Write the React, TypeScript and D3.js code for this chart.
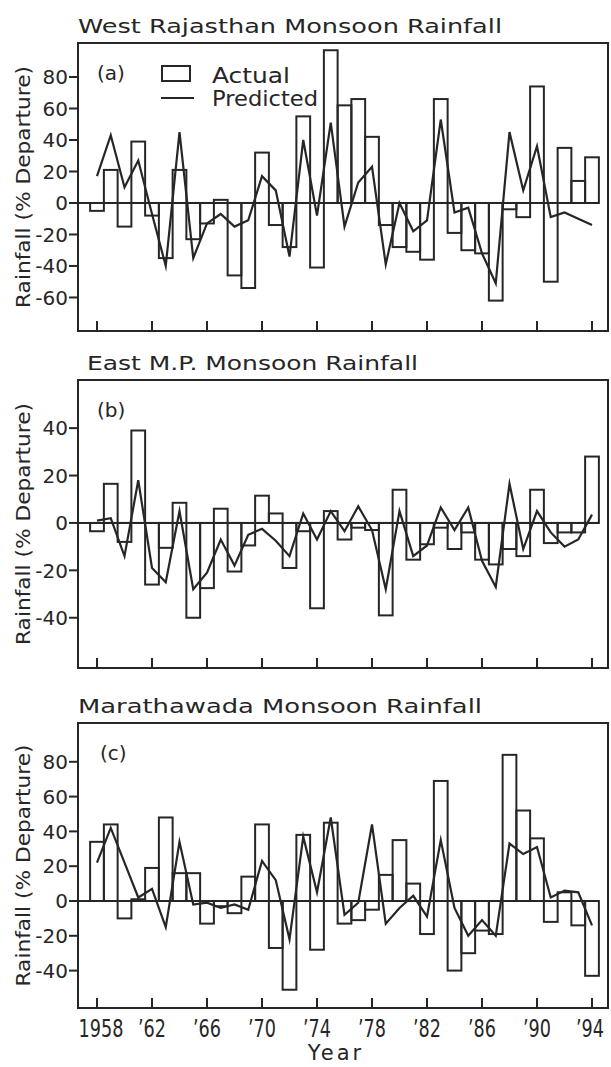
import React from 'react';
import * as d3 from 'd3';

// years on the x axis, one bar per year
const years = [1958, 1959, 1960, 1961, 1962, 1963, 1964, 1965, 1966, 1967, 1968, 1969, 1970,
  1971, 1972, 1973, 1974, 1975, 1976, 1977, 1978, 1979, 1980, 1981, 1982, 1983, 1984, 1985,
  1986, 1987, 1988, 1989, 1990, 1991, 1992, 1993, 1994];

const tickYears = [1958, 1962, 1966, 1970, 1974, 1978, 1982, 1986, 1990, 1994];
const tickLabels = ['1958', '\u201962', '\u201966', '\u201970', '\u201974', '\u201978', '\u201982', '\u201986', '\u201990', '\u201994'];

// (a) West Rajasthan
const rajActual = [-5, 21, -15, 39, -8, -35, 21, -23, -13, 2, -46, -54, 32, -14, -28, 55, -41, 97,
  62, 66, 42, -14, -28, -31, -36, 66, -19, -30, -32, -62, -4, -9, 74, -50, 35, 14, 29];
const rajPredicted = [17, 43, 10, 27, -7, -40, 45, -35, -13, -7, -15, -11, 17, 8, -34, 40, -8, 51,
  -15, 13, 23, -39, 0, -18, -11, 53, -6, -3, -32, -51, 45, 8, 36, -9, -6, -10, -14];

// (b) East M.P.
const mpActual = [-3.5, 16.5, -8, 39, -26, -10.5, 8.5, -40, -27.5, 6, -20.5, -9.5, 11.5, 4, -19, -3.5,
  -36, 5, -7, -2, -3, -39, 14, -15.5, -9, -2, -11, -4, -15.5, -17.5, -11, -14, 14, -8.5, -4, -4, 28];
const mpPredicted = [1, 2, -14, 18, -19, -25, 5, -28, -21, -7, -18, -5, -2.5, -7.5, -14, 4, -7, 5,
  -3.5, 7, -3, -28, 5, -14, -9.5, 6.5, -3, 6.5, -16, -27, 16.5, -11, 5, -4, -10, -7, 3.5];

// (c) Marathawada
const marActual = [34, 44, -10, 1, 19, 48, 16, 16, -13, -3, -7, 14, 44, -27, -51, 38, -28, 45, -13,
  -11, -5, 15, 35, 10, -19, 69, -40, -30, -17, -19, 84, 52, 36, -12, 5, -14, -43];
const marPredicted = [22, 42, 22, 2, 7, -15, 34, -2, -1, -4, -2, -5, 23, 12, -22, 37, 5, 48, -8, -1,
  44, -13, -4, 3, -9, 35, -4, -20, -11, -20, 33, 27, 31, 2, 6, 5, -14];

const ink = '#262626';
const font = 'DejaVu Sans, sans-serif';
const left = 78;
const right = 608;

const x = d3.scaleLinear().domain([1958, 1994]).range([97, 592]);

type PanelProps = {
  title: string;
  titleX: number;
  titleW: number;
  tag: string;
  tagX: number;
  actual: number[];
  predicted: number[];
  top: number;
  bottom: number;
  domain: [number, number];
  ticks: number[];
  legend?: boolean;
};

function Panel(p: PanelProps) {
  const y = d3.scaleLinear().domain(p.domain).range([p.bottom, p.top]);
  const line = d3.line<number>()
    .x((d, i) => x(years[i]))
    .y(d => y(d));
  const mid = (p.top + p.bottom) / 2;

  return (
    <g>
      <text x={p.titleX} y={p.top - 10} fontSize={20} fill={ink} textLength={p.titleW}
        lengthAdjust="spacingAndGlyphs">{p.title}</text>

      {/* frame */}
      <rect x={left} y={p.top} width={right - left} height={p.bottom - p.top}
        fill="none" stroke={ink} strokeWidth={2} />

      {/* y axis */}
      {p.ticks.map(t => (
        <g key={t}>
          <line x1={left - 9} x2={left} y1={y(t)} y2={y(t)} stroke={ink} strokeWidth={2} />
          <text x={left - 10} y={y(t)} dy="0.36em" textAnchor="end" fontSize={20} fill={ink}>
            {t}
          </text>
        </g>
      ))}
      <text transform={`translate(30,${mid}) rotate(-90)`} textAnchor="middle" fontSize={19}
        fill={ink} textLength={242} lengthAdjust="spacingAndGlyphs">
        Rainfall (% Departure)
      </text>

      {/* x ticks, inward */}
      {tickYears.map(t => (
        <line key={t} x1={x(t)} x2={x(t)} y1={p.bottom} y2={p.bottom - 10} stroke={ink} strokeWidth={2} />
      ))}

      {/* zero line */}
      <line x1={left} x2={x(1994.5)} y1={y(0)} y2={y(0)} stroke={ink} strokeWidth={2} />

      {/* actual bars */}
      {p.actual.map((v, i) => (
        <rect key={i} x={x(years[i] - 0.5)} width={x(years[i] + 0.5) - x(years[i] - 0.5)}
          y={y(Math.max(0, v))} height={Math.abs(y(v) - y(0))}
          fill="none" stroke={ink} strokeWidth={2} />
      ))}

      {/* predicted line */}
      <path d={line(p.predicted) || ''} fill="none" stroke={ink} strokeWidth={2.2}
        strokeLinejoin="miter" strokeMiterlimit={6} />

      <text x={p.tagX} y={p.top + 37} fontSize={20} fill={ink}>{p.tag}</text>

      {p.legend && (
        <g>
          <rect x={162} y={p.top + 23} width={28} height={15} fill="none" stroke={ink} strokeWidth={2} />
          <text x={212} y={p.top + 40} fontSize={21} fill={ink} textLength={78}
            lengthAdjust="spacingAndGlyphs">Actual</text>
          <line x1={161} x2={194} y1={p.top + 55} y2={p.top + 55} stroke={ink} strokeWidth={2.2} />
          <text x={212} y={p.top + 63} fontSize={21} fill={ink} textLength={106}
            lengthAdjust="spacingAndGlyphs">Predicted</text>
        </g>
      )}
    </g>
  );
}

export default function App() {
  return (
    <svg width={611} height={1067} style={{ position: 'absolute', left: 0, top: 0, background: '#fff' }}
      fontFamily={font}>
      <Panel title="West Rajasthan Monsoon Rainfall" titleX={78} titleW={424} tag="(a)" tagX={97}
        actual={rajActual} predicted={rajPredicted} top={43} bottom={331}
        domain={[-81.3, 101.6]} ticks={[-60, -40, -20, 0, 20, 40, 60, 80]} legend />
      <Panel title="East M.P. Monsoon Rainfall" titleX={87} titleW={331} tag="(b)" tagX={97}
        actual={mpActual} predicted={mpPredicted} top={380} bottom={668}
        domain={[-61.2, 60.3]} ticks={[-40, -20, 0, 20, 40]} />
      <Panel title="Marathawada Monsoon Rainfall" titleX={78} titleW={404} tag="(c)" tagX={100}
        actual={marActual} predicted={marPredicted} top={723} bottom={1008}
        domain={[-61.5, 102.3]} ticks={[-40, -20, 0, 20, 40, 60, 80]} />

      {/* year labels under the last panel */}
      {tickYears.map((t, i) => (
        <text key={t} x={x(t) + (i === 0 ? 4 : i === tickYears.length - 1 ? -2 : 0)} y={1037}
          textAnchor="middle" fontSize={24} fill={ink}
          textLength={i === 0 ? 45 : 28} lengthAdjust="spacingAndGlyphs">
          {tickLabels[i]}
        </text>
      ))}
      <text x={336} y={1060} textAnchor="middle" fontSize={21} letterSpacing={3} fill={ink}>Year</text>
    </svg>
  );
}
